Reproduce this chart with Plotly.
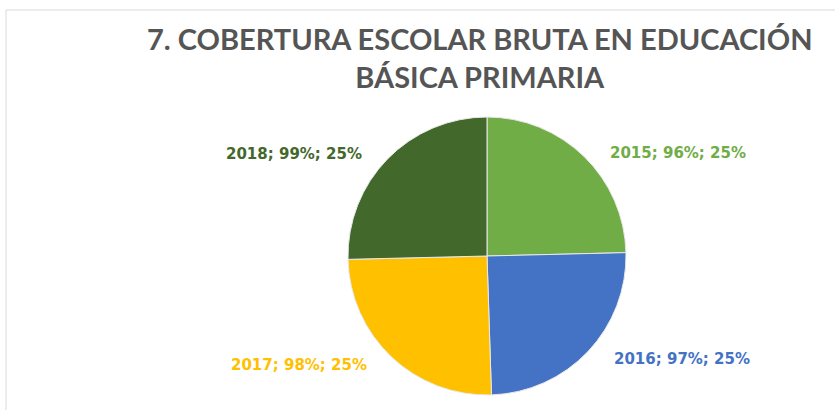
import plotly.graph_objects as go

years = ["2015", "2016", "2017", "2018"]
coverage = [96, 97, 98, 99]
shares = [25, 25, 25, 25]
colors = ["#70AD47", "#4472C4", "#FFC000", "#43682B"]
title_lines = ["7. COBERTURA ESCOLAR BRUTA EN EDUCACIÓN", "BÁSICA PRIMARIA"]

W, H = 835, 410

# label anchor positions (pixels from top-left)
label_pos = [(678, 153), (682, 359), (299, 365), (294, 154)]

fig = go.Figure(go.Pie(
    labels=years,
    values=coverage,
    sort=False,
    direction="clockwise",
    rotation=0,
    marker=dict(colors=colors, line=dict(color="#E8E8E8", width=1)),
    textinfo="none",
    domain=dict(x=[348 / W, 626 / W], y=[1 - 395 / H, 1 - 117 / H]),
    showlegend=False,
    hoverinfo="label+value+percent",
))

annotations = []
for yr, v, s, c, (px, py) in zip(years, coverage, shares, colors, label_pos):
    annotations.append(dict(
        text=f"<b>{yr}; {v}%; {s}%</b>",
        x=px / W, y=1 - py / H, xref="paper", yref="paper",
        xanchor="center", yanchor="middle", showarrow=False,
        font=dict(family="DejaVu Sans", size=15, color=c),
    ))

annotations.append(dict(
    text="<b>" + "<br>".join(title_lines) + "</b>",
    x=480 / W, y=1 - 57 / H, xref="paper", yref="paper",
    xanchor="center", yanchor="middle", showarrow=False,
    font=dict(family="Lato", size=29, color="#555555"),
))

fig.update_layout(
    width=W, height=H,
    margin=dict(l=0, r=0, t=0, b=0),
    paper_bgcolor="white",
    plot_bgcolor="white",
    annotations=annotations,
    shapes=[dict(type="rect", xref="paper", yref="paper",
                 x0=6 / W, x1=1.05, y0=-0.05, y1=1 - 10 / H,
                 line=dict(color="#D9D9D9", width=1), fillcolor="rgba(0,0,0,0)")],
)

fig.write_html("out.html", config={"displayModeBar": False},
               post_script="document.body.style.margin='0px';")
